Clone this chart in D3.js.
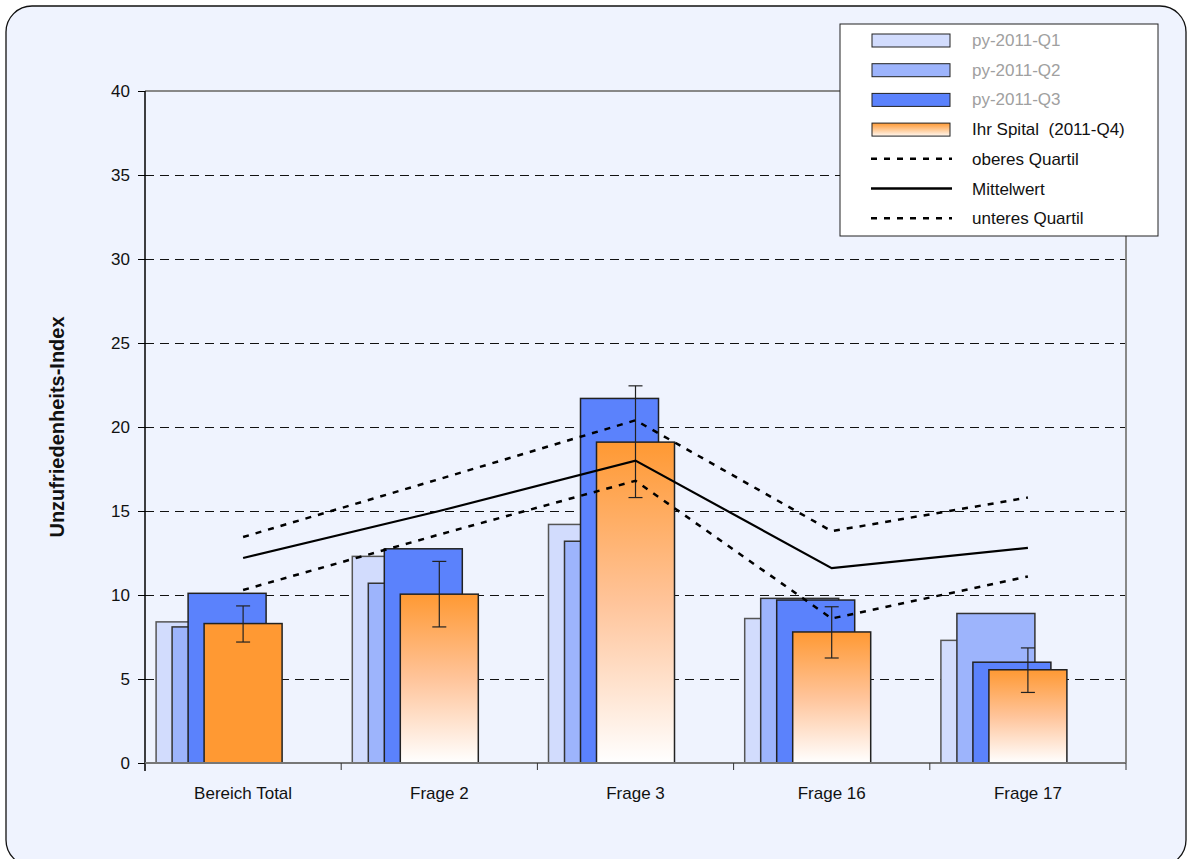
<!DOCTYPE html>
<html>
<head>
<meta charset="utf-8">
<script src="https://cdn.jsdelivr.net/npm/d3@7/dist/d3.min.js"></script>
<style>
  body { margin: 0; background: #fff; }
  text { font-family: "Liberation Sans Narrow", "Arial Narrow", "Liberation Sans", sans-serif; }
</style>
</head>
<body>
<div id="viz"></div>
<script>
// categories and values
var categories = ["Bereich Total", "Frage 2", "Frage 3", "Frage 16", "Frage 17"];
var seriesNames = ["py-2011-Q1", "py-2011-Q2", "py-2011-Q3", "Ihr Spital  (2011-Q4)"];
var q1 = [8.4, 12.3, 14.2, 8.6, 7.3];
var q2 = [8.1, 10.7, 13.2, 9.8, 8.9];
var q3 = [10.1, 12.75, 21.7, 9.7, 6.0];
var q4 = [8.3, 10.05, 19.1, 7.8, 5.55];
var errLow = [7.2, 8.1, 15.8, 6.25, 4.2];
var errHigh = [9.35, 12.0, 22.45, 9.3, 6.85];
var oberes = [13.45, 16.9, 20.4, 13.8, 15.8];
var mittel = [12.2, 15.0, 18.0, 11.6, 12.8];
var unteres = [10.3, 13.6, 16.8, 8.6, 11.1];
var yTicks = [0, 5, 10, 15, 20, 25, 30, 35, 40];

var W = 1191, H = 859;
var svg = d3.select("#viz").append("svg").attr("width", W).attr("height", H);

var defs = svg.append("defs");
var grad = defs.append("linearGradient").attr("id", "orangeGrad")
    .attr("x1", 0).attr("y1", 0).attr("x2", 0).attr("y2", 1);
grad.append("stop").attr("offset", "0%").attr("stop-color", "#ff9933");
grad.append("stop").attr("offset", "50%").attr("stop-color", "#ffc49a");
grad.append("stop").attr("offset", "100%").attr("stop-color", "#ffffff");
var lgGrad = defs.append("linearGradient").attr("id", "legGrad")
    .attr("x1", 0).attr("y1", 0).attr("x2", 0).attr("y2", 1);
lgGrad.append("stop").attr("offset", "0%").attr("stop-color", "#ff9933");
lgGrad.append("stop").attr("offset", "100%").attr("stop-color", "#fff8f2");

// outer rounded frame
svg.append("rect").attr("x", 6).attr("y", 6).attr("width", 1180).attr("height", 860)
    .attr("rx", 26).attr("fill", "#eff3fe").attr("stroke", "#111").attr("stroke-width", 1.3);

var pLeft = 145, pRight = 1126, pTop = 91, pBottom = 763;
var x = d3.scaleBand().domain(categories).range([pLeft, pRight]);
var y = d3.scaleLinear().domain([0, 40]).range([pBottom, pTop]);

// gridlines
svg.append("g").selectAll("line").data(yTicks.filter(function(d){ return d > 0 && d < 40; }))
  .enter().append("line")
    .attr("x1", pLeft).attr("x2", pRight)
    .attr("y1", function(d){ return Math.round(y(d)) + 0.5; }).attr("y2", function(d){ return Math.round(y(d)) + 0.5; })
    .attr("stroke", "#111").attr("stroke-width", 1).attr("stroke-dasharray", "9,6")
    .attr("shape-rendering", "crispEdges");

// plot border top/right
svg.append("line").attr("x1", pLeft).attr("x2", pRight).attr("y1", y(40)).attr("y2", y(40))
    .attr("stroke", "#888").attr("stroke-width", 2);
svg.append("line").attr("x1", pRight).attr("x2", pRight).attr("y1", y(40)).attr("y2", y(0))
    .attr("stroke", "#888").attr("stroke-width", 2);

// bars
var barW = 78, step = 16;
var series = [
  { vals: q1, fill: "#d2dcfd", stroke: "#555" },
  { vals: q2, fill: "#9db4fc", stroke: "#333" },
  { vals: q3, fill: "#5b82fc", stroke: "#222" },
  { vals: q4, fill: "url(#orangeGrad)", stroke: "#222" }
];
series.forEach(function(s, si) {
  svg.append("g").selectAll("rect").data(categories).enter().append("rect")
    .attr("x", function(c){ return x(c) + x.bandwidth()/2 - barW/2 - (3 - si) * step; })
    .attr("y", function(c, i){ return y(s.vals[i]); })
    .attr("width", barW)
    .attr("height", function(c, i){ return y(0) - y(s.vals[i]); })
    .attr("fill", function(c, i){ return (si === 3 && i === 0) ? "#ff9933" : s.fill; })
    .attr("stroke", s.stroke).attr("stroke-width", 1.5);
});

// error bars
var eb = svg.append("g");
categories.forEach(function(c, i) {
  var cx = x(c) + x.bandwidth()/2;
  eb.append("line").attr("x1", cx).attr("x2", cx).attr("y1", y(errHigh[i])).attr("y2", y(errLow[i]))
    .attr("stroke", "#222").attr("stroke-width", 1.2);
  [errHigh[i], errLow[i]].forEach(function(v) {
    eb.append("line").attr("x1", cx - 7).attr("x2", cx + 7).attr("y1", y(v)).attr("y2", y(v))
      .attr("stroke", "#222").attr("stroke-width", 1.2);
  });
});

// lines
var line = d3.line()
  .x(function(d, i){ return x(categories[i]) + x.bandwidth()/2; })
  .y(function(d){ return y(d); });
svg.append("path").datum(oberes).attr("d", line).attr("fill", "none")
  .attr("stroke", "#000").attr("stroke-width", 2.5).attr("stroke-dasharray", "6,7");
svg.append("path").datum(unteres).attr("d", line).attr("fill", "none")
  .attr("stroke", "#000").attr("stroke-width", 2.5).attr("stroke-dasharray", "6,7");
svg.append("path").datum(mittel).attr("d", line).attr("fill", "none")
  .attr("stroke", "#000").attr("stroke-width", 2.2);

// y axis
var yAxis = svg.append("g").attr("transform", "translate(" + pLeft + ",0)")
  .call(d3.axisLeft(y).tickValues(yTicks).tickSize(7).tickPadding(8));
yAxis.select(".domain").attr("stroke", "#000").attr("stroke-width", 1.5).attr("d", "M0," + (y(0) + 8) + "V" + y(40));
yAxis.selectAll(".tick line").attr("stroke", "#000");
yAxis.selectAll(".tick text").attr("font-size", 17).attr("fill", "#111")
  .attr("font-family", "'Liberation Sans Narrow', 'Arial Narrow', sans-serif");

// x axis
var xAxis = svg.append("g").attr("transform", "translate(0," + pBottom + ")")
  .call(d3.axisBottom(x).tickSize(0).tickPadding(24));
xAxis.select(".domain").attr("stroke", "#777").attr("stroke-width", 2).attr("d", "M" + pLeft + ",0H" + pRight);
xAxis.selectAll(".tick text").attr("font-size", 17).attr("fill", "#111")
  .attr("font-family", "'Liberation Sans Narrow', 'Arial Narrow', sans-serif");
var bounds = categories.map(function(c){ return x(c); }).concat([pRight]);
svg.append("g").selectAll("line").data(bounds).enter().append("line")
  .attr("x1", function(d){ return d; }).attr("x2", function(d){ return d; })
  .attr("y1", pBottom).attr("y2", pBottom + 7).attr("stroke", "#333").attr("stroke-width", 1);

// axis title
svg.append("text").attr("transform", "translate(64," + ((pTop + pBottom)/2) + ") rotate(-90)")
  .attr("text-anchor", "middle").attr("font-size", 20).attr("font-weight", "bold").attr("fill", "#111")
  .text("Unzufriedenheits-Index");

// legend
var lg = svg.append("g");
lg.append("rect").attr("x", 840).attr("y", 24).attr("width", 318).attr("height", 212)
  .attr("fill", "#fff").attr("stroke", "#222").attr("stroke-width", 1);
var legendItems = [
  { name: seriesNames[0], type: "rect", fill: "#d2dcfd", color: "#a0a0a0" },
  { name: seriesNames[1], type: "rect", fill: "#9db4fc", color: "#a0a0a0" },
  { name: seriesNames[2], type: "rect", fill: "#5b82fc", color: "#a0a0a0" },
  { name: seriesNames[3], type: "rect", fill: "url(#legGrad)", color: "#111" },
  { name: "oberes Quartil", type: "dash", color: "#111" },
  { name: "Mittelwert", type: "solid", color: "#111" },
  { name: "unteres Quartil", type: "dash", color: "#111" }
];
legendItems.forEach(function(d, i) {
  var cy = 40 + i * 29.7;
  if (d.type === "rect") {
    lg.append("rect").attr("x", 872).attr("y", cy - 6).attr("width", 78).attr("height", 13)
      .attr("fill", d.fill).attr("stroke", "#222").attr("stroke-width", 1);
  } else {
    lg.append("line").attr("x1", 871).attr("x2", 952).attr("y1", cy).attr("y2", cy)
      .attr("stroke", "#000").attr("stroke-width", 2.5)
      .attr("stroke-dasharray", d.type === "dash" ? "6,7" : null);
  }
  lg.append("text").attr("x", 972).attr("y", cy + 6).attr("font-size", 17).attr("fill", d.color)
    .attr("xml:space", "preserve").text(d.name);
});
</script>
</body>
</html>
